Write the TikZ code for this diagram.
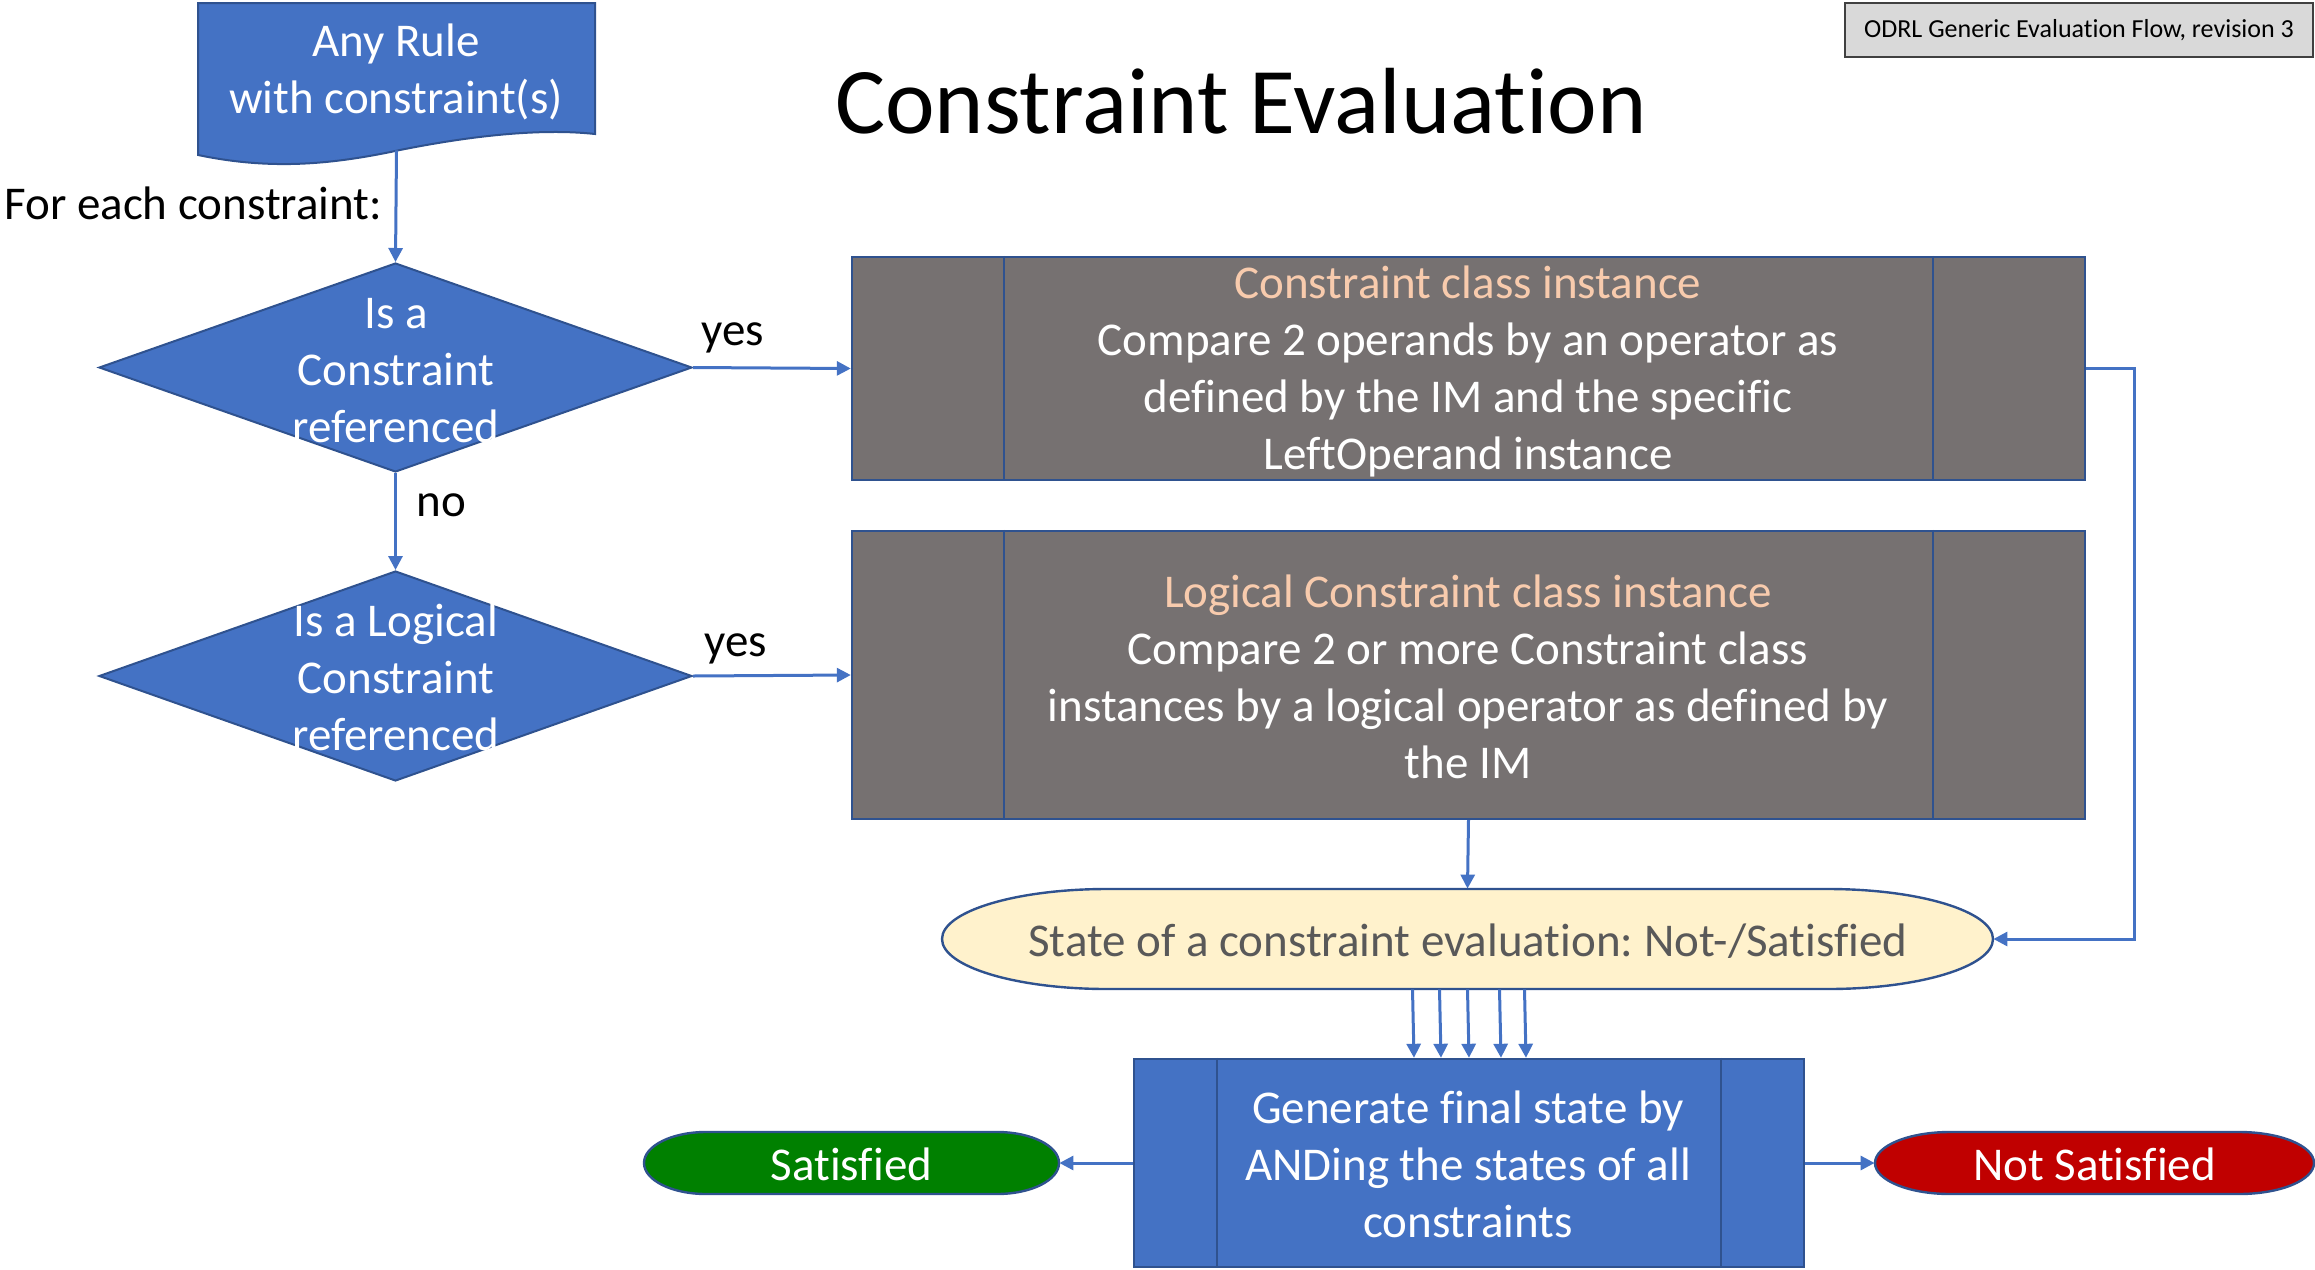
\documentclass[tikz,border=0pt]{standalone}
\usepackage{fontspec}
\setmainfont{Carlito}[Ligatures=NoCommon]
\usetikzlibrary{shapes.geometric,arrows.meta}
\definecolor{fblue}{HTML}{4472C4}
\definecolor{bord}{HTML}{2F528F}
\definecolor{cblue}{HTML}{4472C4}
\definecolor{pgray}{HTML}{767171}
\definecolor{ltorange}{HTML}{F8CBAD}
\definecolor{stfill}{HTML}{FFF2CC}
\definecolor{sttext}{HTML}{595959}
\definecolor{okgreen}{HTML}{008000}
\definecolor{nored}{HTML}{C00000}
\definecolor{tagfill}{HTML}{D9D9D9}
\definecolor{tagbord}{HTML}{404040}
\frenchspacing
\begin{document}
\begin{tikzpicture}[x=0.5pt,y=-0.5pt,
  txt/.style={font=\fontsize{23.5}{28.5}\selectfont, align=center, inner sep=0pt},
  lbl/.style={font=\fontsize{23.5}{28.5}\selectfont, inner sep=0pt, text=black},
  arr/.style={draw=cblue, line width=1.5pt, -{Triangle[length=7pt,width=7pt]}},
  dia/.style={diamond, fill=fblue, draw=bord, line width=1pt, inner sep=0pt},
  pbox/.style={rectangle, fill=pgray, draw=bord, line width=1.2pt, inner sep=0pt},
  fbox/.style={rectangle, fill=fblue, draw=bord, line width=1.2pt, inner sep=0pt},
  innerline/.style={draw=bord, line width=0.8pt},
  ghost/.style={rectangle, inner sep=0pt, draw=none}
]
\useasboundingbox (0,0) rectangle (2315,1270);

% tag
\node[rectangle, fill=tagfill, draw=tagbord, line width=1pt, minimum width=234pt, minimum height=27pt, inner sep=0pt,
  font=\fontsize{13}{15}\selectfont] (tag) at (2079,30) {ODRL Generic Evaluation Flow, revision 3};

% title
\node[anchor=base, inner sep=0pt, font=\fontsize{47}{56}\selectfont] (title) at (1241,133) {Constraint Evaluation};

% document shape
\node[ghost, minimum width=198.5pt, minimum height=73.5pt] (doc) at (396.5,76.5) {};
\draw[fill=fblue, draw=bord, line width=1pt] (198,3) -- (595,3) -- (595,134)
  .. controls (540,128) and (470,136) .. (400,150)
  .. controls (330,165) and (270,170) .. (198,155) -- cycle;
\node[txt, text=white] (doctext) at (396,72) {Any Rule\\with constraint(s)};

\node[lbl, anchor=base west] (foreach) at (4,219) {For each constraint:};

% diamonds
\node[dia, minimum width=296.5pt, minimum height=104.5pt] (d1) at (395.5,367.5) {};
\node[txt, text=white] (d1text) at (396,371) {Is a\\Constraint\\referenced};
\node[dia, minimum width=296.5pt, minimum height=105pt] (d2) at (395.5,676) {};
\node[txt, text=white] (d2text) at (396,677) {Is a Logical\\Constraint\\referenced};

% process boxes
\node[pbox, minimum width=616.5pt, minimum height=111.5pt] (b1) at (1468.5,368.5) {};
\draw[innerline] ([xshift=76.5pt]b1.north west) -- ([xshift=76.5pt]b1.south west);
\draw[innerline] ([xshift=-76.5pt]b1.north east) -- ([xshift=-76.5pt]b1.south east);
\node[txt, text=white] (b1text) at (1468,371) {\textcolor{ltorange}{Constraint class instance}\\Compare 2 operands by an operator as\\defined by the IM and the specific\\LeftOperand instance};

\node[pbox, minimum width=616.5pt, minimum height=144pt] (b2) at (1468.5,675) {};
\draw[innerline] ([xshift=76.5pt]b2.north west) -- ([xshift=76.5pt]b2.south west);
\draw[innerline] ([xshift=-76.5pt]b2.north east) -- ([xshift=-76.5pt]b2.south east);
\node[txt, text=white] (b2text) at (1468,677) {\textcolor{ltorange}{Logical Constraint class instance}\\Compare 2 or more Constraint class\\instances by a logical operator as defined by\\the IM};

% state shape
\node[ghost, minimum width=525.5pt, minimum height=50pt] (state) at (1467.5,939) {};
\draw[fill=stfill, draw=bord, line width=1.2pt] (1107,889) -- (1828,889)
  arc[start angle=90, end angle=-90, x radius=82.5pt, y radius=25pt] -- (1107,989)
  arc[start angle=270, end angle=90, x radius=82.5pt, y radius=25pt] -- cycle;
\node[txt, text=sttext] (statetext) at (1468,941) {State of a constraint evaluation: Not-/Satisfied};

% final box
\node[fbox, minimum width=335pt, minimum height=104pt] (fin) at (1469,1163) {};
\draw[innerline] ([xshift=42pt]fin.north west) -- ([xshift=42pt]fin.south west);
\draw[innerline] ([xshift=-42pt]fin.north east) -- ([xshift=-42pt]fin.south east);
\node[txt, text=white] (fintext) at (1468,1164) {Generate final state by\\ANDing the states of all\\constraints};

% terminals
\node[ghost, minimum width=207.5pt, minimum height=31pt] (sat) at (851.5,1163) {};
\draw[fill=okgreen, draw=bord, line width=1.2pt] (706,1132) -- (997,1132)
  arc[start angle=90, end angle=-90, x radius=31pt, y radius=15.5pt] -- (706,1194)
  arc[start angle=270, end angle=90, x radius=31pt, y radius=15.5pt] -- cycle;
\node[txt, text=white] (sattext) at (851.5,1164) {Satisfied};

\node[ghost, minimum width=219.5pt, minimum height=31pt] (nsat) at (2094.5,1163) {};
\draw[fill=nored, draw=bord, line width=1.2pt] (1950,1132) -- (2239,1132)
  arc[start angle=90, end angle=-90, x radius=37.5pt, y radius=15.5pt] -- (1950,1194)
  arc[start angle=270, end angle=90, x radius=37.5pt, y radius=15.5pt] -- cycle;
\node[txt, text=white] (nsattext) at (2094.5,1164) {Not Satisfied};

% connectors
\draw[arr] (doc.south) -- (d1.north);
\draw[arr] (d1.east) -- (b1.west);
\node[lbl, anchor=base west] (yes1) at (701,345) {yes};
\draw[arr] (d1.south) -- (d2.north);
\node[lbl, anchor=base west] (no1) at (416,516) {no};
\draw[arr] (d2.east) -- (b2.west);
\node[lbl, anchor=base west] (yes2) at (704,656) {yes};
\draw[arr] (b1.east) -- ++(48,0) |- (state.east);
\draw[arr] (b2.south) -- (state.north);
\foreach \dx in {-55,-28,0,32,57}
  \draw[arr] ([xshift=\dx*0.5pt]state.south) -- ([xshift=\dx*0.5pt]fin.north);
\draw[arr] (fin.west) -- (sat.east);
\draw[arr] (fin.east) -- (nsat.west);
\end{tikzpicture}
\end{document}
